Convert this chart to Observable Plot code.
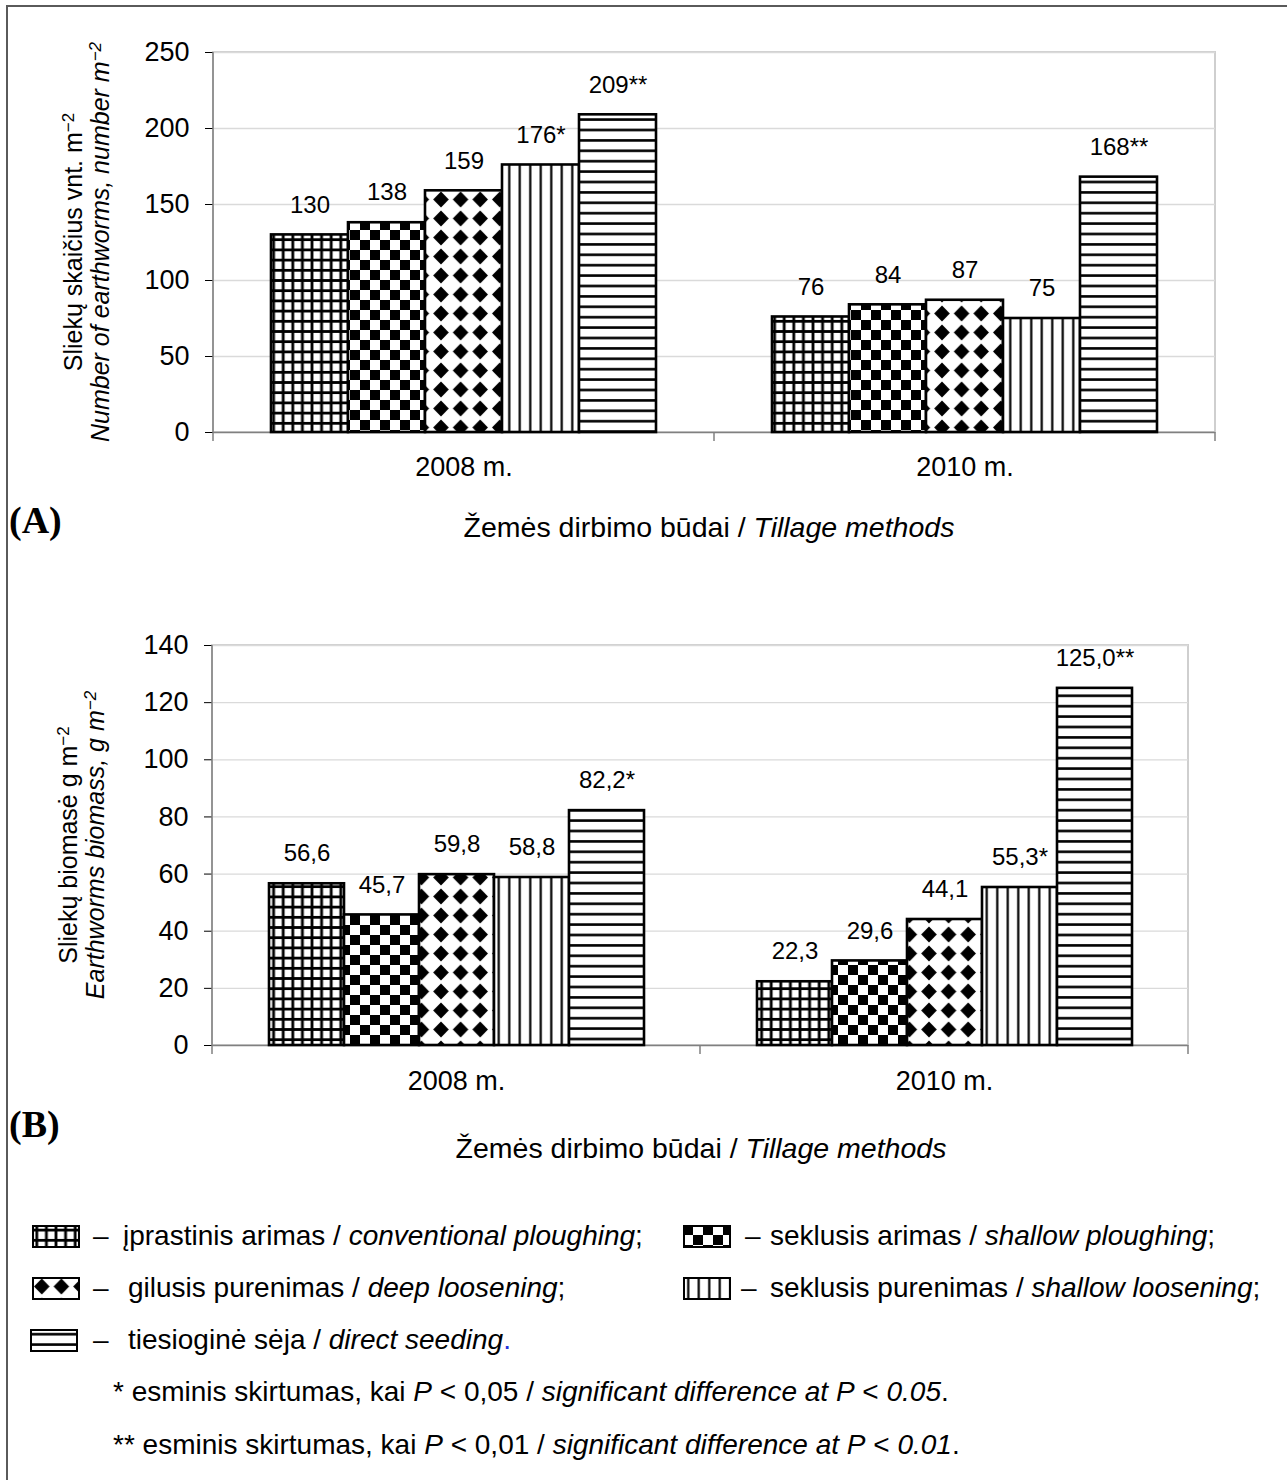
<!DOCTYPE html>
<html>
<head>
<meta charset="utf-8">
<script src="https://cdn.jsdelivr.net/npm/d3@7"></script>
<script src="https://cdn.jsdelivr.net/npm/@observablehq/plot@0.6"></script>
<style>
html, body { margin: 0; padding: 0; background: #fff; overflow: hidden; }
body { width: 1287px; height: 1480px; position: relative; font-family: "Liberation Sans", Arial, sans-serif; color: #000; }
#frame { position: absolute; left: 6px; top: 5px; width: 1400px; height: 1600px; border-left: 2.5px solid #5a5a5a; border-top: 2.5px solid #5a5a5a; pointer-events: none; }
.panel { position: absolute; left: 0; }
.panel svg [aria-label="y-axis tick"] { stroke: #808080; }
#legend { position: absolute; left: 0; top: 1180px; width: 1287px; height: 300px; font-size: 28px; }
#legend .it { position: absolute; white-space: nowrap; line-height: 32px; height: 32px; }
#legend svg { position: absolute; }
i { font-style: italic; }
</style>
</head>
<body>
<svg width="0" height="0" style="position:absolute">
  <defs>
    <pattern id="pGrid" patternUnits="userSpaceOnUse" width="9.6" height="10.2">
      <rect width="9.6" height="10.2" fill="#fff"/>
      <path d="M0 5.1H9.6M4.8 0V10.2" stroke="#000" stroke-width="2.8"/>
    </pattern>
    <pattern id="pCheck" patternUnits="userSpaceOnUse" width="20" height="20">
      <rect width="20" height="20" fill="#fff"/>
      <rect width="10" height="10" fill="#000"/>
      <rect x="10" y="10" width="10" height="10" fill="#000"/>
    </pattern>
    <pattern id="pDiamond" patternUnits="userSpaceOnUse" width="19.6" height="19">
      <rect width="19.6" height="19" fill="#fff"/>
      <path d="M9.8 1.6L17.6 9.5L9.8 17.4L2 9.5Z" fill="#000"/>
    </pattern>
    <pattern id="pVert" patternUnits="userSpaceOnUse" width="10.5" height="10">
      <rect width="10.5" height="10" fill="#fff"/>
      <path d="M5.25 0V10" stroke="#000" stroke-width="2.2"/>
    </pattern>
    <pattern id="pHoriz" patternUnits="userSpaceOnUse" width="10" height="10.4">
      <rect width="10" height="10.4" fill="#fff"/>
      <path d="M0 5.2H10" stroke="#000" stroke-width="2.6"/>
    </pattern>
  </defs>
</svg>
<div id="panelA" class="panel" style="top:0"></div>
<div id="panelB" class="panel" style="top:545px"></div>
<div id="legend"></div>
<div id="frame"></div>
<script>
// ---------- data ----------
const years = ["2008 m.", "2010 m."];
const methods = ["conventional ploughing", "shallow ploughing", "deep loosening", "shallow loosening", "direct seeding"];
const methodLt = ["įprastinis arimas", "seklusis arimas", "gilusis purenimas", "seklusis purenimas", "tiesioginė sėja"];

const count2008 = [130, 138, 159, 176, 209];
const count2010 = [76, 84, 87, 75, 168];
const countSig2008 = ["", "", "", "*", "**"];
const countSig2010 = ["", "", "", "", "**"];

const biomass2008 = [56.6, 45.7, 59.8, 58.8, 82.2];
const biomass2010 = [22.3, 29.6, 44.1, 55.3, 125.0];
const biomassSig2008 = ["", "", "", "", "*"];
const biomassSig2010 = ["", "", "", "*", "**"];

const countTicks = [0, 50, 100, 150, 200, 250];
const biomassTicks = [0, 20, 40, 60, 80, 100, 120, 140];

// ---------- styling ----------
const patterns = ["url(#pGrid)", "url(#pCheck)", "url(#pDiamond)", "url(#pVert)", "url(#pHoriz)"];
const FONT = "'Liberation Sans', Arial, sans-serif";

function buildRows(vals, sigs) {
  return years.flatMap((yr, i) => methods.map((m, j) => ({year: yr, method: m, value: vals[i][j], sig: sigs[i][j]})));
}
const rowsA = buildRows([count2008, count2010], [countSig2008, countSig2010]);
const rowsB = buildRows([biomass2008, biomass2010], [biomassSig2008, biomassSig2010]);

function makePanel(cfg) {
  const marks = [
    Plot.ruleY(cfg.ticks.filter(t => t !== 0), {stroke: "#dadada", strokeWidth: 1.3}),
    Plot.ruleY([0], {stroke: "#808080", strokeWidth: 1.5}),
    ...methods.map((m, i) => Plot.barY(cfg.rows.filter(d => d.method === m), {
      fx: "year", x: "method", y: "value", fill: patterns[i], stroke: "#000", strokeWidth: 2.6
    })),
    Plot.text(cfg.rows, {fx: "year", x: "method", y: "value", text: d => cfg.fmt(d.value) + d.sig, dy: -30, fontSize: 24, fill: "#000"})
  ];
  const plot = Plot.plot({
    width: 1287, height: cfg.height,
    marginTop: cfg.mt, marginBottom: cfg.mb, marginLeft: cfg.ml, marginRight: cfg.mr,
    style: {fontSize: "27px", fontFamily: FONT, color: "#000", background: "#fff"},
    fx: {domain: years, padding: 0, axis: "bottom", label: null, tickSize: 0, tickPadding: cfg.fxPad},
    x: {domain: methods, paddingInner: 0, paddingOuter: 0.75, axis: null},
    y: {domain: [0, cfg.ticks[cfg.ticks.length - 1]], ticks: cfg.ticks, tickSize: 8, tickPadding: 16, label: null, grid: false},
    marks
  });
  decorate(plot, cfg);
  return plot;
}

function decorate(plot, cfg) {
  const svg = d3.select(plot);
  const y = plot.scale("y"), fx = plot.scale("fx");
  const left = fx.apply(years[0]);
  const mid = fx.apply(years[1]);
  const right = mid + fx.bandwidth;
  const y0 = y.apply(0), yT = y.apply(cfg.ticks[cfg.ticks.length - 1]);
  const bg = svg.insert("g", "g");
  bg.append("rect").attr("x", left).attr("y", yT).attr("width", right - left).attr("height", y0 - yT)
    .attr("fill", "none").attr("stroke", "#cfcfcf").attr("stroke-width", 2);
  const fg = svg.append("g").attr("stroke", "#808080").attr("stroke-width", 1.5);
  fg.append("line").attr("x1", left).attr("x2", left).attr("y1", yT).attr("y2", y0);
  [left, mid, right].forEach(x => fg.append("line").attr("x1", x).attr("x2", x).attr("y1", y0).attr("y2", y0 + 9));
  // rotated y labels
  const cy = (y0 + yT) / 2;
  cfg.ylab.forEach((ln, k) => {
    const t = svg.append("text").attr("transform", `translate(${cfg.ylabX[k]},${cy}) rotate(-90)`)
      .attr("text-anchor", "middle").attr("dy", "0.35em").attr("font-size", 25).attr("font-family", FONT)
      .attr("font-style", k === 1 ? "italic" : "normal").attr("fill", "#000");
    t.append("tspan").text(ln);
    t.append("tspan").attr("dy", "-0.45em").attr("font-size", 17).text("−2");
  });
  // x title
  const tt = svg.append("text").attr("x", cfg.titleX).attr("y", cfg.titleY).attr("dy", "0.35em")
    .attr("text-anchor", "middle").attr("font-size", 28.5).attr("font-family", FONT).attr("fill", "#000");
  tt.append("tspan").text("Žemės dirbimo būdai / ");
  tt.append("tspan").attr("font-style", "italic").text("Tillage methods");
  // panel letter
  svg.append("text").attr("x", 9).attr("y", cfg.letterY).attr("font-size", 38).attr("font-weight", "bold")
    .attr("text-anchor", "start")
    .attr("font-family", "'Liberation Serif', 'Times New Roman', serif").attr("fill", "#000").text(cfg.letter);
}

document.getElementById("panelA").append(makePanel({
  rows: rowsA, ticks: countTicks, fmt: v => String(v),
  height: 545, mt: 52, mb: 113, ml: 213, mr: 72, fxPad: 24,
  ylab: ["Sliekų skaičius vnt. m", "Number of earthworms, number m"], ylabX: [73, 100],
  titleX: 709, titleY: 527, letter: "(A)", letterY: 533
}));

document.getElementById("panelB").append(makePanel({
  rows: rowsB, ticks: biomassTicks, fmt: v => d3.format(".1f")(v).replace(".", ","),
  height: 635, mt: 100, mb: 135, ml: 212, mr: 99, fxPad: 25,
  ylab: ["Sliekų biomasė g m", "Earthworms biomass, g m"], ylabX: [68, 95],
  titleX: 701, titleY: 603, letter: "(B)", letterY: 592
}));

// ---------- legend ----------
const legend = d3.select("#legend");
const legendItems = [
  {i: 0, sw: 32, dash: 93, text: 123, cy: 56},
  {i: 1, sw: 683, dash: 745, text: 770, cy: 56},
  {i: 2, sw: 32, dash: 93, text: 128, cy: 108},
  {i: 3, sw: 683, dash: 741, text: 770, cy: 108},
  {i: 4, sw: 30, dash: 93, text: 128, cy: 160}
];
const endPunct = [";", ";", ";", ";", "."];
legendItems.forEach(it => {
  const s = legend.append("svg").attr("width", 48).attr("height", 23)
    .style("left", it.sw + "px").style("top", (it.cy - 11.5) + "px");
  s.append("rect").attr("x", 1).attr("y", 1).attr("width", 46).attr("height", 21)
    .attr("fill", patterns[it.i]).attr("stroke", "#000").attr("stroke-width", 2);
  legend.append("div").attr("class", "it").style("left", it.dash + "px").style("top", (it.cy - 16) + "px").text("–");
  const d = legend.append("div").attr("class", "it").style("left", it.text + "px").style("top", (it.cy - 16) + "px");
  d.append("span").text(methodLt[it.i] + " / ");
  d.append("i").text(methods[it.i]);
  d.append("span").style("color", it.i === 4 ? "#2233dd" : "#000").text(endPunct[it.i]);
});
const notes = [
  {stars: "*", lt: "0,05", en: "0.05", cy: 212},
  {stars: "**", lt: "0,01", en: "0.01", cy: 265}
];
notes.forEach(n => {
  const d = legend.append("div").attr("class", "it").style("left", "113px").style("top", (n.cy - 16) + "px");
  d.html(`${n.stars} esminis skirtumas, kai <i>P</i> &lt; ${n.lt} / <i>significant difference at P</i> &lt; <i>${n.en}</i>.`);
});
</script>
</body>
</html>
